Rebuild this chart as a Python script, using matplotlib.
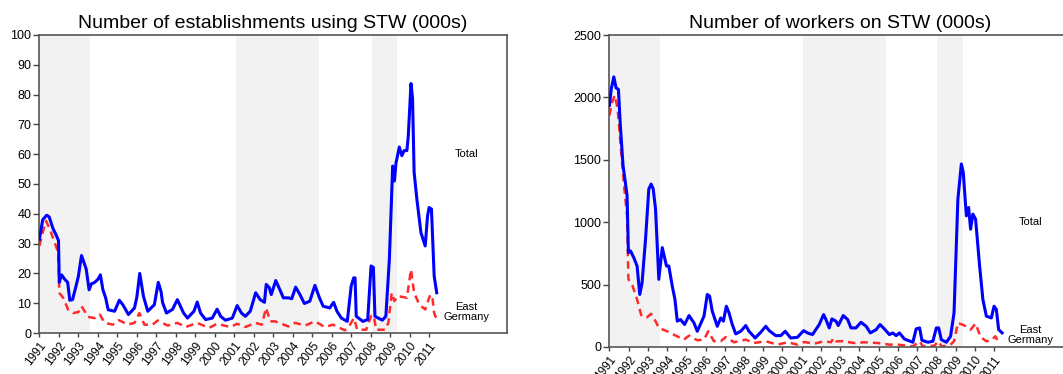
import matplotlib
matplotlib.use("Agg")
import matplotlib.pyplot as plt

# establishments using STW (000s)
est_total_t = [1991.0, 1991.17, 1991.37, 1991.5, 1991.7, 1991.85, 1991.98, 1992.02, 1992.14, 1992.3,
               1992.45, 1992.56, 1992.7, 1992.87, 1993.0, 1993.16, 1993.4, 1993.55, 1993.67, 1993.84,
               1994.0, 1994.13, 1994.26, 1994.4, 1994.53, 1994.86, 1995.1, 1995.28, 1995.57, 1995.88,
               1996.0, 1996.15, 1996.34, 1996.56, 1996.9, 1997.1, 1997.24, 1997.32, 1997.52, 1997.83,
               1998.08, 1998.4, 1998.6, 1998.93, 1999.1, 1999.27, 1999.53, 1999.87, 2000.12, 2000.3,
               2000.55, 2000.9, 2001.15, 2001.37, 2001.57, 2001.82, 2002.1, 2002.33, 2002.55, 2002.64,
               2002.8, 2002.9, 2003.13, 2003.35, 2003.52, 2003.78, 2003.95, 2004.15, 2004.37, 2004.6,
               2004.88, 2005.14, 2005.36, 2005.56, 2005.9, 2006.1, 2006.27, 2006.5, 2006.8, 2007.0,
               2007.13, 2007.2, 2007.26, 2007.6, 2007.85, 2008.02, 2008.14, 2008.22, 2008.6, 2008.78,
               2008.96, 2009.13, 2009.22, 2009.3, 2009.47, 2009.6, 2009.72, 2009.86, 2009.93, 2010.07,
               2010.15, 2010.23, 2010.37, 2010.58, 2010.8, 2010.92, 2011.0, 2011.12, 2011.26, 2011.39]
est_total = [31.5, 38, 39.5, 39, 35, 33, 31, 17, 19.5, 18,
             17, 11, 11.2, 15.5, 19, 26, 21.5, 14.5, 16.5, 17,
             18, 19.5, 14.5, 11.8, 7.8, 7.3, 11, 9.5, 6.2, 8.4,
             12, 20, 12.3, 7.3, 9.5, 17, 14, 10.3, 6.7, 7.9,
             11.2, 6.7, 5, 7.3, 10.4, 6.7, 4.5, 5, 8, 5.6,
             4.3, 5, 9.2, 6.7, 5.6, 7.3, 13.5, 11.2, 10.3, 16.3,
             15.2, 12.9, 17.6, 14.4, 11.8, 11.8, 11.5, 15.4, 12.9, 9.9,
             10.7, 16, 12, 9, 8.4, 10.3, 7.3, 5, 3.9, 15.7,
             18.5, 18.5, 5.6, 3.9, 4.5, 22.5, 22, 5.6, 4.3, 5.6,
             24.7, 56, 51, 57, 62.4, 59.5, 61.2, 61.2, 66, 83.7,
             78.7, 54, 45, 33.7, 29.2, 39.3, 42.1, 41.6, 19.1, 13.5]

est_east_t = [1991.0, 1991.17, 1991.34, 1991.54, 1991.75, 1991.97, 1992.02, 1992.22, 1992.48, 1992.73,
              1993.0, 1993.16, 1993.5, 1993.84, 1994.1, 1994.35, 1994.77, 1995.08, 1995.54, 1995.88,
              1996.13, 1996.39, 1996.81, 1997.07, 1997.58, 1998.08, 1998.5, 1999.1, 1999.7, 2000.12,
              2000.8, 2001.15, 2001.57, 2002.08, 2002.42, 2002.63, 2002.85, 2003.1, 2003.78, 2004.12,
              2004.63, 2005.14, 2005.65, 2006.07, 2006.67, 2006.84, 2007.14, 2007.31, 2007.77, 2008.03,
              2008.16, 2008.28, 2008.74, 2008.91, 2009.08, 2009.22, 2009.39, 2009.86, 2010.07, 2010.23,
              2010.5, 2010.8, 2011.06, 2011.17, 2011.26, 2011.43]
est_east = [29.2, 33.7, 37.6, 34.8, 30.9, 27, 13.5, 11.8, 7.8, 6.7,
            7, 9, 5.4, 5, 6.2, 3.4, 2.8, 4.3, 2.8, 3.4,
            6.7, 2.8, 2.8, 4.2, 2.5, 3.4, 2, 3.4, 1.7, 3.1,
            2, 3.1, 2, 3.4, 2.8, 8.4, 3.9, 3.9, 2.2, 3.4,
            2.5, 3.9, 2, 2.8, 0.9, 1.7, 5, 1.1, 1.1, 5.8,
            5.8, 1.1, 1.1, 3.4, 13.5, 10.7, 12.4, 11.8, 21.3, 13.5,
            9.5, 7.9, 12.9, 11.8, 6.7, 3.9]

# workers on STW (000s)
wrk_total_t = [1991.0, 1991.1, 1991.23, 1991.35, 1991.47, 1991.57, 1991.71, 1991.83, 1991.92, 1991.99,
               1992.1, 1992.27, 1992.44, 1992.58, 1992.7, 1992.88, 1993.05, 1993.17, 1993.28, 1993.4,
               1993.57, 1993.75, 1993.87, 1993.97, 1994.09, 1994.27, 1994.41, 1994.53, 1994.7, 1994.91,
               1995.14, 1995.4, 1995.57, 1995.92, 1996.09, 1996.21, 1996.35, 1996.61, 1996.79, 1996.93,
               1997.08, 1997.22, 1997.39, 1997.57, 1997.83, 1998.09, 1998.26, 1998.58, 1998.87, 1999.13,
               1999.31, 1999.65, 1999.91, 2000.14, 2000.43, 2000.78, 2001.1, 2001.3, 2001.56, 2001.91,
               2002.14, 2002.26, 2002.43, 2002.57, 2002.78, 2002.9, 2003.16, 2003.39, 2003.56, 2003.82,
               2004.08, 2004.35, 2004.57, 2004.87, 2005.07, 2005.3, 2005.56, 2005.73, 2005.91, 2006.08,
               2006.34, 2006.78, 2006.95, 2007.13, 2007.25, 2007.56, 2007.82, 2008.0, 2008.12, 2008.26,
               2008.52, 2008.74, 2008.92, 2009.12, 2009.3, 2009.4, 2009.56, 2009.68, 2009.78, 2009.9,
               2010.04, 2010.25, 2010.42, 2010.6, 2010.86, 2011.0, 2011.12, 2011.24, 2011.42]
wrk_total = [1936, 2070, 2165, 2076, 2065, 1775, 1454, 1320, 1212, 756,
             770, 716, 649, 421, 515, 864, 1266, 1306, 1266, 1105,
             542, 797, 716, 649, 649, 488, 381, 207, 220, 180,
             252, 193, 126, 247, 421, 408, 287, 166, 233, 207,
             327, 274, 180, 105, 126, 172, 126, 72, 118, 166,
             131, 91, 91, 126, 72, 78, 131, 113, 99, 180,
             260, 220, 153, 225, 207, 172, 252, 220, 153, 153,
             198, 166, 113, 139, 180, 145, 99, 113, 91, 113,
             64, 38, 145, 153, 54, 38, 46, 153, 153, 59,
             38, 86, 274, 1185, 1467, 1400, 1051, 1118, 944, 1065,
             1025, 649, 381, 247, 233, 327, 300, 139, 113]

wrk_east_t = [1991.0, 1991.14, 1991.28, 1991.43, 1991.6, 1991.78, 1991.92, 1991.99, 1992.18, 1992.44,
              1992.67, 1992.96, 1993.17, 1993.4, 1993.57, 1994.0, 1994.35, 1994.87, 1995.14, 1995.57,
              1995.92, 1996.14, 1996.44, 1996.79, 1997.05, 1997.48, 1998.09, 1998.52, 1999.13, 1999.74,
              2000.26, 2000.78, 2001.13, 2001.65, 2002.17, 2002.52, 2002.66, 2002.78, 2003.13, 2003.73,
              2004.26, 2004.95, 2005.56, 2006.0, 2006.78, 2007.13, 2007.3, 2007.91, 2008.08, 2008.29,
              2008.69, 2008.92, 2009.12, 2009.47, 2009.78, 2010.04, 2010.3, 2010.6, 2010.86, 2011.07,
              2011.24]
wrk_east = [1856, 1963, 2017, 1910, 1588, 1266, 1051, 542, 502, 381,
            247, 239, 266, 207, 153, 126, 99, 59, 91, 54,
            59, 126, 46, 46, 80, 38, 59, 32, 46, 19,
            38, 19, 40, 27, 46, 38, 72, 46, 46, 32,
            38, 32, 19, 19, 5, 46, 5, 11, 46, 5,
            11, 46, 193, 172, 139, 188, 80, 46, 54, 86,
            32]

recessions = [(1991.0, 1993.62), (2001.08, 2005.37), (2008.06, 2009.37)]
years = list(range(1991, 2012))

plt.rcParams['font.family'] = ['Liberation Sans', 'DejaVu Sans']

fig = plt.figure(figsize=(10.63, 3.74), dpi=100)
ax1 = fig.add_axes([0.0367, 0.1096, 0.4403, 0.797])
ax2 = fig.add_axes([0.5729, 0.0722, 0.4346, 0.834])


def draw_panel(ax, t_tot, v_tot, t_east, v_east, ymax, ystep, title, total_y, east_y):
    for a, b in recessions:
        ax.axvspan(a, b, color='#f2f2f2', lw=0, zorder=0)
    ax.plot(t_east, v_east, color='#ff2a2a', lw=1.8, dashes=(3, 2), zorder=2)
    ax.plot(t_tot, v_tot, color='#0000ff', lw=2.2, zorder=3)
    ax.set_xlim(1990.98, 2015)
    ax.set_ylim(0, ymax)
    ax.set_yticks(range(0, ymax + 1, ystep))
    ax.set_xticks(years)
    ax.set_xticklabels([str(y) for y in years], rotation=52, ha='right',
                       rotation_mode='anchor', fontsize=8.5)
    ax.tick_params(axis='y', labelsize=9, length=4.5, width=1, color='#444444', pad=1)
    ax.tick_params(axis='x', length=3, width=1, color='#444444', pad=2)
    for s in ax.spines.values():
        s.set_color('#555555')
        s.set_linewidth(1.2)
    ax.set_title(title, fontsize=14, pad=5)
    ax.text(2012.9, total_y, 'Total', fontsize=8, ha='center', va='center')
    ax.text(2012.9, east_y, 'East\nGermany', fontsize=8, ha='center', va='center',
            linespacing=1.0)


draw_panel(ax1, est_total_t, est_total, est_east_t, est_east, 100, 10,
           'Number of establishments using STW (000s)', 60, 7)
draw_panel(ax2, wrk_total_t, wrk_total, wrk_east_t, wrk_east, 2500, 500,
           'Number of workers on STW (000s)', 1000, 100)

fig.savefig('out.png', dpi=100)
